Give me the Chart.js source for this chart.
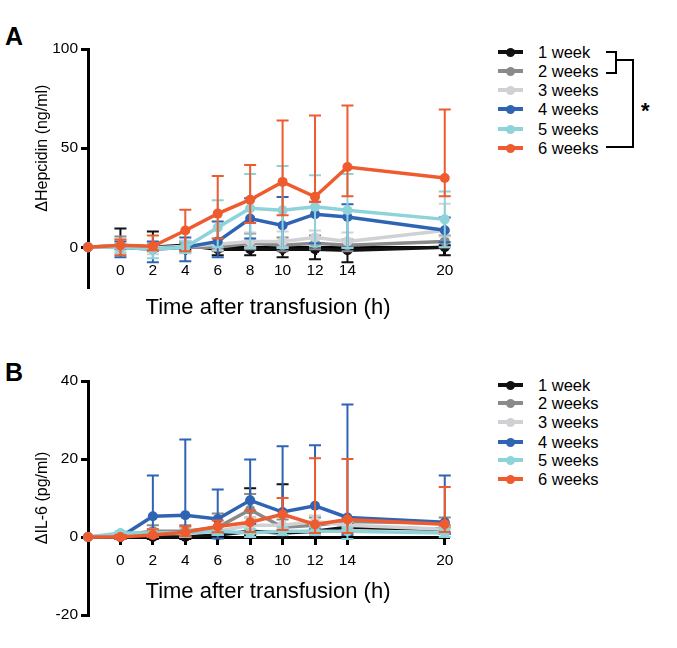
<!DOCTYPE html>
<html>
<head>
<meta charset="utf-8">
<script src="https://cdn.jsdelivr.net/npm/chart.js@4.4.1/dist/chart.umd.min.js"></script>
<style>
  body { margin: 0; background: #fff; width: 677px; height: 648px; position: relative; overflow: hidden;
         font-family: "Liberation Sans", Arial, Helvetica, sans-serif; color: #000; }
  canvas { position: absolute; left: 0; }
  .panel { position: absolute; left: 5px; font-size: 25px; font-weight: bold; line-height: 25px; }
  .item { position: absolute; left: 498px; height: 20px; line-height: 20px; font-size: 16.5px; white-space: nowrap; }
  .item .ln { position: absolute; left: 0; top: 8px; width: 25px; height: 4px; }
  .item .dot { position: absolute; left: 8px; top: 5.5px; width: 9px; height: 9px; border-radius: 50%; }
  .item .tx { position: absolute; left: 40px; top: 0; }
  .br { position: absolute; border-color: #000; border-style: solid; border-width: 0; }
  .star { position: absolute; left: 641px; top: 98px; font-size: 22px; font-weight: bold; }
</style>
</head>
<body>
<div class="panel" style="top:24px">A</div>
<div class="panel" style="top:360px">B</div>
<canvas id="chartA" width="470" height="330" style="top:0"></canvas>
<canvas id="chartB" width="470" height="318" style="top:330px"></canvas>
<div id="legendA"></div>
<div id="legendB"></div>
<div class="br" style="left:606px; top:51px; width:9px; height:19px; border-top-width:2.5px; border-right-width:2.5px; border-bottom-width:2.5px;"></div>
<div class="br" style="left:617px; top:59px; width:15px; height:87px; border-top-width:2.5px; border-right-width:2.5px;"></div>
<div class="br" style="left:606px; top:146px; width:27px; height:0; border-top-width:2.5px;"></div>
<div class="star">*</div>
<script>
// sampling times (h); -2 is the pre-transfusion baseline
const hours = [-2, 0, 2, 4, 6, 8, 10, 12, 14, 20];
const xTickValues = [0, 2, 4, 6, 8, 10, 12, 14, 20];
const seriesNames = ["1 week", "2 weeks", "3 weeks", "4 weeks", "5 weeks", "6 weeks"];
const seriesColors = ["#111111", "#8a8a8a", "#d0d1d5", "#2f64b4", "#8dd3d9", "#ee5b2e"];

// panel A: delta hepcidin (ng/ml), one row per storage age
const hepMean = [
  [0, 0.5, 0, 1, -1, -1, -1, -1, -1.5, 0],
  [0, 1, 0, 0, 0, 2, 1, 2, 1, 3],
  [0, 1, -0.5, 0.5, 1.5, 3, 3, 5, 3, 8.5],
  [0, 0, -1, 0, 3, 14.5, 11, 16.7, 15.3, 8.6],
  [0, 0, -1, 0, 10, 19.7, 18.7, 20.4, 18.7, 14.1],
  [0, 1, 0.5, 8.5, 17, 24, 33, 25.5, 40.5, 35]
];
const hepErrUp = [
  [0, 9, 8, 2, 1, 1, 1, 1, 1, 1],
  [0, 4.5, 2, 2, 2, 5, 4, 4, 3, 3],
  [0, 3, 3, 3, 3, 4.5, 5, 3.5, 4.5, 13.5],
  [0, 3, 4, 5, 10, 10.2, 14.4, 6.3, 6.4, 6.4],
  [0, 2, 2, 3, 13.7, 17.3, 22.3, 16, 18.3, 14],
  [0, 3, 5.5, 10.5, 19, 17.5, 31, 41, 31, 34.5]
];
const hepErrDown = [
  [0, 1, 1, 2, 3, 3, 4, 5, 6, 4],
  [0, 2, 2, 2, 2, 3, 3, 3, 3, 3],
  [0, 3, 3, 3, 3, 3, 3, 3, 3, 3],
  [0, 5, 6.5, 7, 8, 10, 11.5, 14.7, 15.3, 6],
  [0, 3, 4.5, 3, 10, 20, 19, 20, 19, 14],
  [0, 5, 2, 10.5, 12.5, 11.7, 16.8, 2.6, 14.7, 9.2]
];

// panel B: delta IL-6 (pg/ml)
const il6Mean = [
  [0, 0, 0, 0, 0.5, 1.5, 1, 1.5, 2.5, 2],
  [0, 0.5, 1.5, 1.5, 2.5, 7, 2.5, 3, 4, 3.5],
  [0, 0.5, 1, 1, 1.5, 3, 3, 4, 3, 2],
  [0, 0, 5.3, 5.6, 4.6, 9.4, 6.4, 8, 5, 3.8],
  [0, 1, 1, 1, 1.5, 1, 1.5, 1.5, 1.5, 1],
  [0, 0, 0.5, 1.2, 2.7, 3.8, 5.8, 3.2, 4.5, 3.3]
];
const il6ErrUp = [
  [0, 0.5, 0.5, 1, 1, 11, 12.5, 1, 1, 1],
  [0, 0.5, 1.5, 1.5, 3.5, 4, 2, 2, 1, 1.5],
  [0, 0.5, 1, 1, 1, 2, 2, 1.5, 1, 1],
  [0, 0.5, 10.5, 19.4, 7.6, 10.5, 16.9, 15.5, 29, 12],
  [0, 0.5, 1, 1, 1, 1, 1, 1, 1, 1],
  [0, 0.5, 1.5, 1.5, 1.5, 3, 4.2, 17, 15.5, 9.5]
];
const il6ErrDown = [
  [0, 0.5, 0.5, 0.5, 0.5, 1, 1, 1, 1, 1],
  [0, 0.5, 1, 1, 1.5, 2, 1, 1, 1, 1],
  [0, 0.5, 1, 1, 1, 1, 1, 1, 1, 1],
  [0, 0.5, 4, 4, 5, 6, 5, 6, 4.5, 3],
  [0, 0.5, 1, 1, 1, 1, 1, 1, 2, 1],
  [0, 0.5, 0.5, 1, 1.5, 2.5, 4, 2.2, 3.5, 2]
];

const FONT = '"Liberation Sans", Arial, Helvetica, sans-serif';
Chart.defaults.font.family = FONT;
Chart.defaults.color = "#000";

// error bars drawn just under each series' own line
const errorBars = {
  id: "errorBars",
  beforeDatasetDraw(chart, args) {
    const ds = chart.data.datasets[args.index];
    const xs = chart.scales.x, ys = chart.scales.y;
    const ctx = chart.ctx;
    ctx.save();
    ctx.strokeStyle = ds.borderColor;
    ctx.lineWidth = 2;
    ds.data.forEach((p, i) => {
      const up = ds.errUp[i], dn = ds.errDown[i];
      if (!up && !dn) return;
      const x = xs.getPixelForValue(p.x);
      const yTop = ys.getPixelForValue(p.y + up);
      const yBot = ys.getPixelForValue(p.y - dn);
      ctx.beginPath();
      ctx.moveTo(x, yTop); ctx.lineTo(x, yBot);
      ctx.moveTo(x - 6, yTop); ctx.lineTo(x + 6, yTop);
      ctx.moveTo(x - 6, yBot); ctx.lineTo(x + 6, yBot);
      ctx.stroke();
    });
    ctx.restore();
  }
};

// rotated y title, centred on a chosen value
const yTitle = {
  id: "yTitle",
  afterDraw(chart, args, opts) {
    const ctx = chart.ctx;
    const y = chart.scales.y.getPixelForValue(opts.center);
    ctx.save();
    ctx.translate(43, y);
    ctx.rotate(-Math.PI / 2);
    ctx.font = "16px " + FONT;
    ctx.fillStyle = "#000";
    ctx.textAlign = "center";
    ctx.textBaseline = "middle";
    ctx.fillText(opts.text, 0, 0);
    ctx.restore();
  }
};

function makeChart(id, means, ups, downs, cfg) {
  const datasets = means.map((m, s) => ({
    label: seriesNames[s],
    data: hours.map((h, i) => ({ x: h, y: m[i] })),
    errUp: ups[s],
    errDown: downs[s],
    borderColor: seriesColors[s],
    backgroundColor: seriesColors[s],
    borderWidth: 3.5,
    pointRadius: 5,
    pointBorderWidth: 0,
    pointBackgroundColor: seriesColors[s],
    tension: 0,
    clip: false,
    order: 5 - s
  }));

  return new Chart(document.getElementById(id), {
    type: "line",
    data: { datasets },
    plugins: [errorBars, yTitle],
    options: {
      responsive: false,
      animation: false,
      devicePixelRatio: 1,
      layout: { padding: { top: cfg.padTop, bottom: cfg.padBottom, left: 0, right: 22 } },
      plugins: {
        legend: { display: false },
        tooltip: { enabled: false },
        yTitle: { text: cfg.yTitle, center: cfg.yCenter }
      },
      scales: {
        x: {
          type: "linear",
          min: -2,
          max: 20.2,
          position: { y: 0 },
          afterBuildTicks: s => { s.ticks = xTickValues.map(v => ({ value: v })); },
          afterFit: s => { s.height = cfg.xHeight; },
          grid: { display: true, drawOnChartArea: false, drawTicks: true, tickLength: 6, color: "#000", lineWidth: 3 },
          border: { display: true, color: "#000", width: 3 },
          ticks: { color: "#000", font: { size: 15.5 }, padding: cfg.xPad, maxRotation: 0, autoSkip: false },
          title: { display: true, text: "Time after transfusion (h)", color: "#000", font: { size: 22 }, padding: 0 }
        },
        y: {
          type: "linear",
          position: "left",
          min: cfg.yMin,
          max: cfg.yMax,
          afterBuildTicks: s => { s.ticks = cfg.yTicks.map(v => ({ value: v })); },
          afterFit: s => { s.width = 88; },
          grid: { display: true, drawOnChartArea: false, drawTicks: true, tickLength: 7, color: "#000", lineWidth: 3 },
          border: { display: true, color: "#000", width: 3 },
          ticks: { color: "#000", font: { size: 15.5 }, padding: 3 }
        }
      }
    }
  });
}

makeChart("chartA", hepMean, hepErrUp, hepErrDown, {
  padTop: 49, padBottom: 43, yMin: -20, yMax: 100, yTicks: [0, 50, 100],
  yTitle: "\u0394Hepcidin (ng/ml)", yCenter: 50, xHeight: 74, xPad: 8
});
makeChart("chartB", il6Mean, il6ErrUp, il6ErrDown, {
  padTop: 51, padBottom: 33, yMin: -20, yMax: 40, yTicks: [-20, 0, 20, 40],
  yTitle: "\u0394IL-6 (pg/ml)", yCenter: 10, xHeight: 68, xPad: 8
});

function buildLegend(elId, rowCenters) {
  const el = document.getElementById(elId);
  seriesNames.forEach((name, s) => {
    const item = document.createElement("div");
    item.className = "item";
    item.style.top = (rowCenters[s] - 10) + "px";
    item.innerHTML = '<div class="ln" style="background:' + seriesColors[s] + '"></div>' +
      '<div class="dot" style="background:' + seriesColors[s] + '"></div>' +
      '<div class="tx">' + name + '</div>';
    el.appendChild(item);
  });
}
buildLegend("legendA", [52, 71, 90, 109, 129, 148]);
buildLegend("legendB", [385, 403, 422, 442, 460, 479]);
</script>
</body>
</html>
